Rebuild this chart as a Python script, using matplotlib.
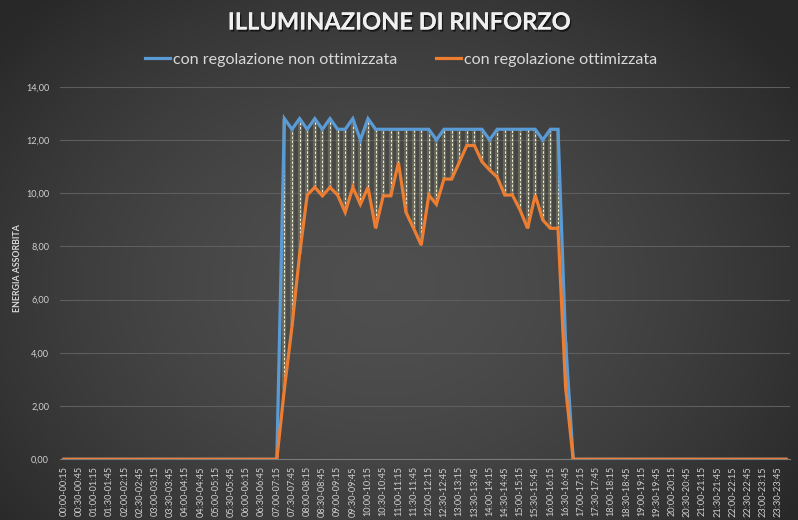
import numpy as np
import matplotlib
matplotlib.use("Agg")
import matplotlib.pyplot as plt
import matplotlib.patheffects as pe

# ---- data ----
times = []
for q in range(96):
    h1, m1 = divmod(q * 15, 60)
    h2, m2 = divmod(q * 15 + 15, 60)
    times.append(f"{h1:02d}:{m1:02d}-{h2:02d}:{m2:02d}")

# values from 07:00-07:15 (index 28) to 16:45-17:00 (index 67); zero elsewhere
non_ottimizzata_active = [0.0, 12.8, 12.4, 12.8, 12.4, 12.8, 12.4, 12.8, 12.4, 12.4, 12.8, 12.0,
                          12.8, 12.4, 12.4, 12.4, 12.4, 12.4, 12.4, 12.4, 12.4, 12.0, 12.4, 12.4,
                          12.4, 12.4, 12.4, 12.4, 12.0, 12.4, 12.4, 12.4, 12.4, 12.4, 12.4, 12.0,
                          12.4, 12.4, 4.4, 0.0]
ottimizzata_active = [0.0, 2.65, 5.0, 7.7, 9.93, 10.22, 9.9, 10.22, 9.93, 9.28, 10.22, 9.58,
                      10.22, 8.68, 9.9, 9.9, 11.15, 9.28, 8.68, 8.05, 9.93, 9.58, 10.53, 10.53,
                      11.15, 11.79, 11.79, 11.18, 10.87, 10.6, 9.93, 9.93, 9.37, 8.68, 9.93, 8.99,
                      8.68, 8.68, 2.7, 0.0]
start_index = 28

non_ottimizzata = [0.0] * 96
ottimizzata = [0.0] * 96
for k, (a, b) in enumerate(zip(non_ottimizzata_active, ottimizzata_active)):
    non_ottimizzata[start_index + k] = a
    ottimizzata[start_index + k] = b

y_ticks = [0, 2, 4, 6, 8, 10, 12, 14]
title = "ILLUMINAZIONE DI RINFORZO"
ylabel = "ENERGIA ASSORBITA"
label_blue = "con regolazione non ottimizzata"
label_orange = "con regolazione ottimizzata"

# ---- figure ----
W, H = 798, 520
fig = plt.figure(figsize=(W / 100, H / 100), dpi=100)

# radial gradient background
bg = fig.add_axes([0, 0, 1, 1], zorder=-10)
yy, xx = np.mgrid[0:H, 0:W]
cx, cy = W * 0.48, H * 0.55
r = np.sqrt(((xx - cx) / (W * 0.62)) ** 2 + ((yy - cy) / (H * 0.75)) ** 2)
r = np.clip(r, 0, 1)
c_in, c_out = 0.31, 0.16
val = c_in - (c_in - c_out) * r ** 1.6
img = np.dstack([val, val, val])
bg.imshow(img, aspect="auto", extent=[0, 1, 0, 1], interpolation="bilinear")
bg.set_axis_off()

left = 60.2 / W
right = 789.8 / W
bottom = 1 - 459.3 / H
top = 1 - 86.7 / H
ax = fig.add_axes([left, bottom, right - left, top - bottom])
ax.set_facecolor("none")

x = np.arange(96)
nb = np.array(non_ottimizzata)
no = np.array(ottimizzata)

# drop lines
mask = (nb > 0) | (no > 0)
ax.vlines(x[mask], no[mask], nb[mask], colors="#d8d8a0", linewidth=3.0, alpha=0.22, zorder=2)
ax.vlines(x[mask], no[mask], nb[mask], colors="#e8e8cc", linewidth=0.75, linestyles=(0, (2.5, 1.5)), zorder=3)

ax.plot(x, nb, color="#5B9BD5", linewidth=2.3, solid_joinstyle="miter", zorder=4, label=label_blue)
ax.plot(x, no, color="#ED7D31", linewidth=2.3, solid_joinstyle="miter", zorder=5, label=label_orange)

ax.set_xlim(-0.5, 95.5)
ax.set_ylim(0, 14)
ax.set_yticks(y_ticks)
ax.set_yticklabels([f"{v:.2f}".replace(".", ",") for v in y_ticks])
ax.set_xticks(x[::2])
ax.set_xticklabels([times[i] for i in range(0, 96, 2)], rotation=90)
ax.tick_params(axis="x", length=0, pad=5, labelsize=6.6, labelcolor="#d0d0d0")
ax.tick_params(axis="y", length=0, pad=8, labelsize=6.6, labelcolor="#d0d0d0")
for lab in ax.get_xticklabels() + ax.get_yticklabels():
    lab.set_family("Lato")

ax.grid(axis="y", color="#5e5e5e", linewidth=0.8)
ax.set_axisbelow(True)
for s in ["top", "right", "left"]:
    ax.spines[s].set_visible(False)
ax.spines["bottom"].set_color("#7a7a7a")
ax.spines["bottom"].set_linewidth(0.8)

fig.text(18 / W, 1 - 268 / H, ylabel, rotation=90, ha="center", va="center",
         fontsize=6.3, fontweight="bold", color="#d9d9d9", family="Lato")

t = fig.text(399 / W, 1 - 22 / H, title, ha="center", va="center", fontsize=17,
             fontweight="bold", color="#f0f0f0", family="Lato")
t.set_path_effects([pe.withSimplePatchShadow(offset=(1, -1.5), shadow_rgbFace="black", alpha=0.6), pe.Normal()])

leg = fig.legend(loc="center", bbox_to_anchor=(401 / W, 1 - 60 / H), ncol=2, frameon=False,
                 handlelength=1.55, handletextpad=0.2, columnspacing=2.4,
                 prop={"family": "Lato", "size": 11.6})
for txt in leg.get_texts():
    txt.set_color("#d9d9d9")
for ln in leg.get_lines():
    ln.set_linewidth(2.3)

fig.savefig("out.png", dpi=100)
